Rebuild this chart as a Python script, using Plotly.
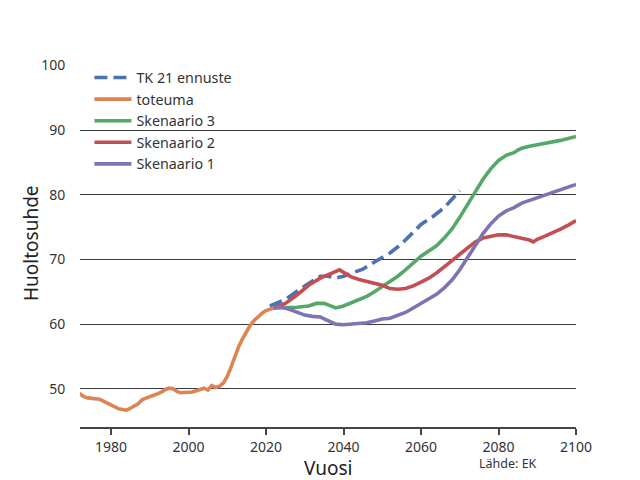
import plotly.graph_objects as go

# ---- data ----
tot_years = list(range(1971, 2023))
tot_vals = [49.6, 49.2, 48.8, 48.6, 48.5, 48.4, 48.4, 48.1, 47.8, 47.5,
            47.1, 46.9, 46.8, 46.7, 47.0, 47.3, 47.7, 48.3, 48.6, 48.8,
            49.0, 49.2, 49.5, 49.9, 50.1, 50.0, 49.6, 49.4, 49.4, 49.4,
            49.5, 49.7, 49.9, 50.1, 49.8, 50.5, 50.2, 50.4, 50.9, 51.9,
            53.4, 55.0, 56.6, 57.8, 58.9, 59.9, 60.6, 61.2, 61.7, 62.1,
            62.3, 62.5]

tk_years = [2021, 2025, 2030, 2034, 2036, 2038, 2040, 2042, 2045, 2048,
            2050, 2052, 2055, 2058, 2060, 2063, 2066, 2068, 2070]
tk_vals = [62.8, 63.8, 65.9, 67.4, 67.4, 67.1, 67.4, 67.8, 68.5, 69.6,
           70.3, 71.0, 72.4, 74.2, 75.4, 76.6, 78.0, 79.3, 80.6]

s3_years = [2022, 2025, 2028, 2031, 2033, 2035, 2037, 2038, 2040, 2042,
            2044, 2046, 2048, 2050, 2052, 2054, 2056, 2058, 2060, 2062,
            2064, 2066, 2068, 2070, 2072, 2074, 2076, 2078, 2080, 2082,
            2084, 2085, 2086, 2088, 2090, 2092, 2094, 2096, 2098, 2100]
s3_vals = [62.5, 62.5, 62.6, 62.8, 63.2, 63.2, 62.8, 62.5, 62.8, 63.3,
           63.8, 64.3, 65.0, 65.8, 66.5, 67.4, 68.4, 69.5, 70.5, 71.3,
           72.1, 73.3, 74.7, 76.5, 78.5, 80.5, 82.4, 84.0, 85.3, 86.1,
           86.5, 86.9, 87.2, 87.5, 87.7, 87.9, 88.2, 88.4, 88.7, 89.0]

s2_years = [2022, 2025, 2028, 2031, 2034, 2036, 2038, 2039, 2040, 2042,
            2044, 2046, 2048, 2050, 2052, 2054, 2056, 2058, 2060, 2062,
            2064, 2066, 2068, 2070, 2072, 2074, 2076, 2078, 2080, 2082,
            2084, 2086, 2088, 2089, 2090, 2092, 2094, 2096, 2098, 2100]
s2_vals = [62.5, 63.2, 64.5, 66.0, 67.1, 67.6, 68.0, 68.4, 68.0, 67.3,
           66.9, 66.6, 66.3, 66.0, 65.5, 65.4, 65.5, 65.9, 66.5, 67.1,
           67.9, 68.8, 69.8, 70.8, 71.8, 72.7, 73.3, 73.6, 73.8, 73.8,
           73.5, 73.3, 73.0, 72.7, 73.1, 73.6, 74.1, 74.7, 75.3, 76.0]

s1_years = [2022, 2024, 2026, 2028, 2030, 2032, 2034, 2035, 2037, 2038,
            2040, 2042, 2044, 2046, 2048, 2050, 2052, 2054, 2056, 2058,
            2060, 2062, 2064, 2066, 2068, 2070, 2072, 2074, 2076, 2078,
            2080, 2082, 2084, 2086, 2088, 2090, 2092, 2094, 2096, 2098, 2100]
s1_vals = [62.5, 62.6, 62.3, 61.8, 61.4, 61.2, 61.1, 60.8, 60.3, 60.0,
           59.9, 60.0, 60.1, 60.2, 60.5, 60.8, 60.9, 61.3, 61.8, 62.5,
           63.2, 63.9, 64.6, 65.6, 66.8, 68.4, 70.2, 72.2, 74.0, 75.5,
           76.7, 77.5, 78.0, 78.7, 79.1, 79.5, 79.9, 80.3, 80.7, 81.1, 81.6]

x_ticks = [1980, 2000, 2020, 2040, 2060, 2080, 2100]
y_ticks = [50, 60, 70, 80, 90, 100]

FONT = "Noto Sans"
LW = 3.6

series = [
    ("TK 21 ennuste", tk_years, tk_vals, "#4C72B0", "13px,6px"),
    ("toteuma", tot_years, tot_vals, "#DD8452", "solid"),
    ("Skenaario 3", s3_years, s3_vals, "#55A868", "solid"),
    ("Skenaario 2", s2_years, s2_vals, "#C44E52", "solid"),
    ("Skenaario 1", s1_years, s1_vals, "#8172B3", "solid"),
]

fig = go.Figure()
for name, xs, ys, col, dash in series:
    fig.add_trace(go.Scatter(
        x=xs, y=ys, mode="lines", name=name,
        line=dict(color=col, width=LW, dash=dash),
    ))

fig.update_layout(
    width=640, height=480,
    margin=dict(l=80, r=64, t=65, b=53),
    paper_bgcolor="white", plot_bgcolor="white",
    font=dict(family=FONT, color="#333333", size=14),
    showlegend=True,
    legend=dict(
        x=0.019, y=1.009, xanchor="left", yanchor="top",
        bgcolor="rgba(0,0,0,0)", font=dict(size=14.3, color="#333333"),
        traceorder="normal", itemwidth=37,
    ),
    xaxis=dict(
        range=[1972, 2100], tickvals=x_ticks, showgrid=False, zeroline=False,
        showline=True, linecolor="#444444", linewidth=2,
        ticks="outside", ticklen=6, tickwidth=2, tickcolor="#444444",
        tickfont=dict(size=14, color="#333333"),
    ),
    yaxis=dict(
        range=[44.1, 100.05], tickvals=y_ticks, showgrid=True,
        gridcolor="#3a3a3a", gridwidth=1, zeroline=False, showline=False,
        ticks="outside", ticklen=11, tickcolor="rgba(0,0,0,0)",
        tickfont=dict(size=14, color="#333333"),
    ),
    annotations=[
        dict(text="Huoltosuhde", xref="paper", yref="paper", x=0, y=0.5,
             xanchor="center", yanchor="middle",
             xshift=-49, yshift=3, textangle=-90, showarrow=False,
             font=dict(size=19, color="#222222")),
        dict(text="Vuosi", xref="paper", yref="paper", x=0.5, y=0,
             xanchor="center", yanchor="middle",
             yshift=-41, showarrow=False, font=dict(size=19, color="#222222")),
        dict(text="Lähde: EK", xref="paper", yref="paper",
             x=(508 - 80) / 496, y=0, xanchor="center", yanchor="middle",
             yshift=-36, showarrow=False,
             font=dict(size=12.5, color="#333333")),
    ],
)

fig.write_html("out.html")
